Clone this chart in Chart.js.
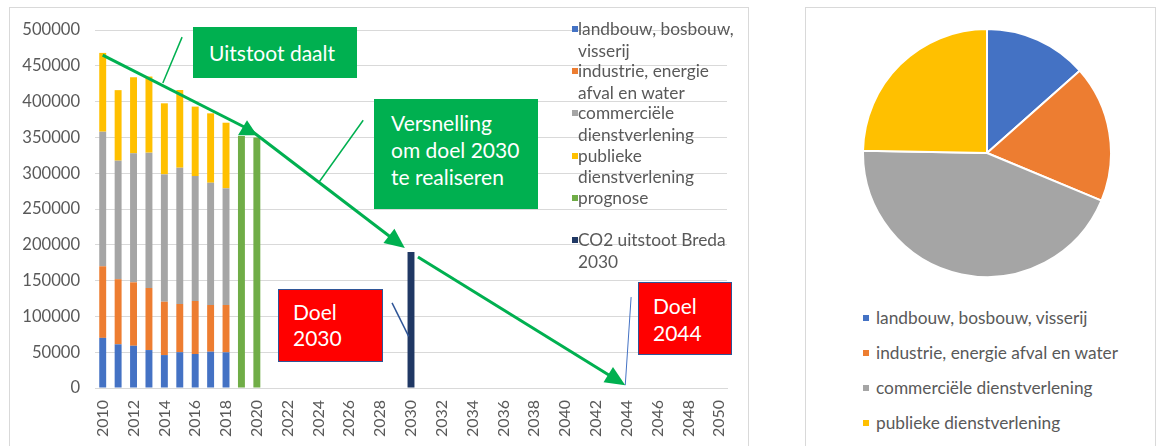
<!DOCTYPE html>
<html><head><meta charset="utf-8">
<script src="https://cdn.jsdelivr.net/npm/chart.js@4"></script>
<style>
body{margin:0;width:1159px;height:446px;overflow:hidden;background:#fff;font-family:Lato,sans-serif;position:relative}
.frame{position:absolute;border:1px solid #D9D9D9;box-sizing:border-box}
canvas{position:absolute}
.box{position:absolute;box-sizing:border-box;color:#fff;font-size:21px;white-space:nowrap}
.green{background:#00B050}
.red{background:#FF0000;border:1.5px solid #2F5597}
.leg{position:absolute;color:#595959;font-size:17.3px}
.leg .it{position:absolute;left:0;white-space:nowrap}
.leg .sw{position:absolute;width:6px;height:6px}
</style></head><body>
<div class="frame" style="left:9px;top:7px;width:740px;height:460px"></div>
<div class="frame" style="left:805px;top:7px;width:351px;height:460px"></div>
<canvas id="bar" width="760" height="446" style="left:0;top:0"></canvas>
<canvas id="pie" width="250" height="250" style="left:862px;top:28px"></canvas>
<div class="leg" id="legL" style="left:572px;top:18px"></div>
<div class="leg" id="legR" style="left:863px;top:307px"></div>
<div class="box green" style="left:193px;top:27px;width:164px;height:51px;line-height:51px;padding-left:16px">Uitstoot daalt</div>
<div class="box green" style="left:374px;top:99px;width:164px;height:110px;line-height:27px;padding:10px 0 0 17px">Versnelling<br>om doel 2030<br>te realiseren</div>
<div class="box red" style="left:278px;top:289px;width:105px;height:73px;line-height:26px;padding:9px 0 0 14px">Doel<br>2030</div>
<div class="box red" style="left:638px;top:282px;width:94px;height:73px;line-height:27px;padding:9px 0 0 14px">Doel<br>2044</div>
<script>
// ---- data ----
const years = ['2010','2011','2012','2013','2014','2015','2016','2017','2018','2019','2020',
  '2021','2022','2023','2024','2025','2026','2027','2028','2029','2030','2031','2032','2033',
  '2034','2035','2036','2037','2038','2039','2040','2041','2042','2043','2044','2045','2046',
  '2047','2048','2049','2050'];
const landbouw   = [70000, 61000, 59000, 53000, 46000, 50000, 47500, 50700, 49800];
const industrie  = [100000, 91000, 88600, 86700, 74500, 67300, 74000, 65200, 66100];
const commercieel= [188000, 165500, 180200, 189000, 177900, 190400, 174600, 170800, 163000];
const publiek    = [110000, 98500, 106200, 106300, 99200, 108500, 96900, 96900, 91600];
const prognose   = [{x:'2019', y:352000}, {x:'2020', y:350000}];
const co2Breda   = [{x:'2030', y:190000}];
const yTicksMax = 500000, yStep = 50000;
const names = ['landbouw, bosbouw, visserij','industrie, energie afval en water','commerciële dienstverlening','publieke dienstverlening','prognose','CO2 uitstoot Breda 2030'];
const legendLines = [['landbouw, bosbouw,','visserij'],['industrie, energie','afval en water'],['commerciële','dienstverlening'],['publieke','dienstverlening'],['prognose'],['CO2 uitstoot Breda','2030']];
const colors = ['#4472C4','#ED7D31','#A5A5A5','#FFC000','#70AD47','#203864'];
// pie uses the last measured year (2018)
const last = landbouw.length - 1;
const pieValues = [landbouw[last], industrie[last], commercieel[last], publiek[last]];

// ---- annotations (data coordinates: [year, value]) ----
const arrows = [
  {from:[2010, 465000], to:[2019.6, 360000], head:false},
  {from:[2019.6, 360000], to:[2029.6, 195500], head:true},
  {from:[2030.45, 183000], to:[2043.9, 4000], head:true}
];
const marker = [2019.36, 374000];
const connectors = [
  {from:[2015.15, 490000], to:[2013.9, 426000], color:'#00B050', w:1.5},
  {from:[2026.9, 374000], to:[2024.05, 288000], color:'#00B050', w:1.5},
  {from:[2028.77, 119000], to:[2029.85, 72000], color:'#2F5597', w:1.5},
  {from:[2044.28, 127000], to:[2043.9, 4000], color:'#4472C4', w:1}
];

Chart.defaults.font.family = 'Lato, sans-serif';
Chart.defaults.color = '#595959';

const annot = {
  id:'annot',
  afterDraw(chart){
    const ctx = chart.ctx, xs = chart.scales.x, ys = chart.scales.y;
    const P = p => [xs.getPixelForValue(p[0]-2010), ys.getPixelForValue(p[1])];
    ctx.save();
    connectors.forEach(c=>{
      const a=P(c.from), b=P(c.to);
      ctx.strokeStyle=c.color; ctx.lineWidth=c.w;
      ctx.beginPath(); ctx.moveTo(a[0],a[1]); ctx.lineTo(b[0],b[1]); ctx.stroke();
    });
    ctx.strokeStyle='#00B050'; ctx.fillStyle='#00B050'; ctx.lineWidth=3;
    arrows.forEach(ar=>{
      const a=P(ar.from), b=P(ar.to);
      const ang=Math.atan2(b[1]-a[1], b[0]-a[0]);
      const L=20, H=9;
      const ex = ar.head ? b[0]-Math.cos(ang)*L*0.8 : b[0];
      const ey = ar.head ? b[1]-Math.sin(ang)*L*0.8 : b[1];
      ctx.beginPath(); ctx.moveTo(a[0],a[1]); ctx.lineTo(ex,ey); ctx.stroke();
      if(ar.head){
        const bx=b[0]-Math.cos(ang)*L, by=b[1]-Math.sin(ang)*L;
        ctx.beginPath(); ctx.moveTo(b[0],b[1]);
        ctx.lineTo(bx+Math.sin(ang)*H, by-Math.cos(ang)*H);
        ctx.lineTo(bx-Math.sin(ang)*H, by+Math.cos(ang)*H);
        ctx.closePath(); ctx.fill();
      }
    });
    const m=P(marker);
    ctx.beginPath(); ctx.moveTo(m[0],m[1]); ctx.lineTo(m[0]+10,m[1]+15); ctx.lineTo(m[0]-9,m[1]+15); ctx.closePath(); ctx.fill();
    ctx.restore();
  }
};

const mk = (i, data) => ({label:names[i], data, backgroundColor:colors[i], borderWidth:0,
  barPercentage:0.9, categoryPercentage:0.5, stack:'s'});

new Chart(document.getElementById('bar'), {
  type:'bar',
  data:{labels:years, datasets:[mk(0,landbouw),mk(1,industrie),mk(2,commercieel),mk(3,publiek),mk(4,prognose),mk(5,co2Breda)]},
  options:{
    responsive:false, animation:false,
    layout:{padding:{top:30,right:33,left:0,bottom:0}},
    plugins:{legend:{display:false}, tooltip:{enabled:false}},
    scales:{
      x:{stacked:true, grid:{display:false, drawTicks:false}, border:{color:'#D9D9D9'},
        afterFit(s){ s.height = 58; },
        ticks:{autoSkip:false, maxRotation:90, minRotation:90, padding:12, font:{size:16}, color:'#595959',
          callback(v,i){ return i%2===0 ? this.getLabelForValue(v) : ''; }}},
      y:{stacked:true, min:0, max:yTicksMax, grid:{color:'#D9D9D9', drawTicks:false}, border:{display:false},
        afterFit(s){ s.width = 95; },
        ticks:{stepSize:yStep, padding:15, font:{size:16.6}, color:'#595959', callback:v=>String(v)}}
    }
  },
  plugins:[annot]
});

new Chart(document.getElementById('pie'), {
  type:'pie',
  data:{labels:names.slice(0,4), datasets:[{data:pieValues, backgroundColor:colors.slice(0,4), borderColor:'#fff', borderWidth:2}]},
  options:{responsive:false, animation:false, layout:{padding:0},
    plugins:{legend:{display:false}, tooltip:{enabled:false}}}
});

// HTML legends
const legL = document.getElementById('legL');
legendLines.forEach((lines,i)=>{
  const top = i*42.2;
  legL.insertAdjacentHTML('beforeend',
    `<div class="sw" style="top:${top+8}px;left:0;background:${colors[i]}"></div>`+
    `<div class="it" style="top:${top}px;left:6px;line-height:21.5px">${lines.join('<br>')}</div>`);
});
const legR = document.getElementById('legR');
names.slice(0,4).forEach((n,i)=>{
  const top = i*35;
  legR.insertAdjacentHTML('beforeend',
    `<div class="sw" style="top:${top+8}px;left:0;background:${colors[i]}"></div>`+
    `<div class="it" style="top:${top}px;left:13px;line-height:22px">${n}</div>`);
});
</script>
</body></html>
